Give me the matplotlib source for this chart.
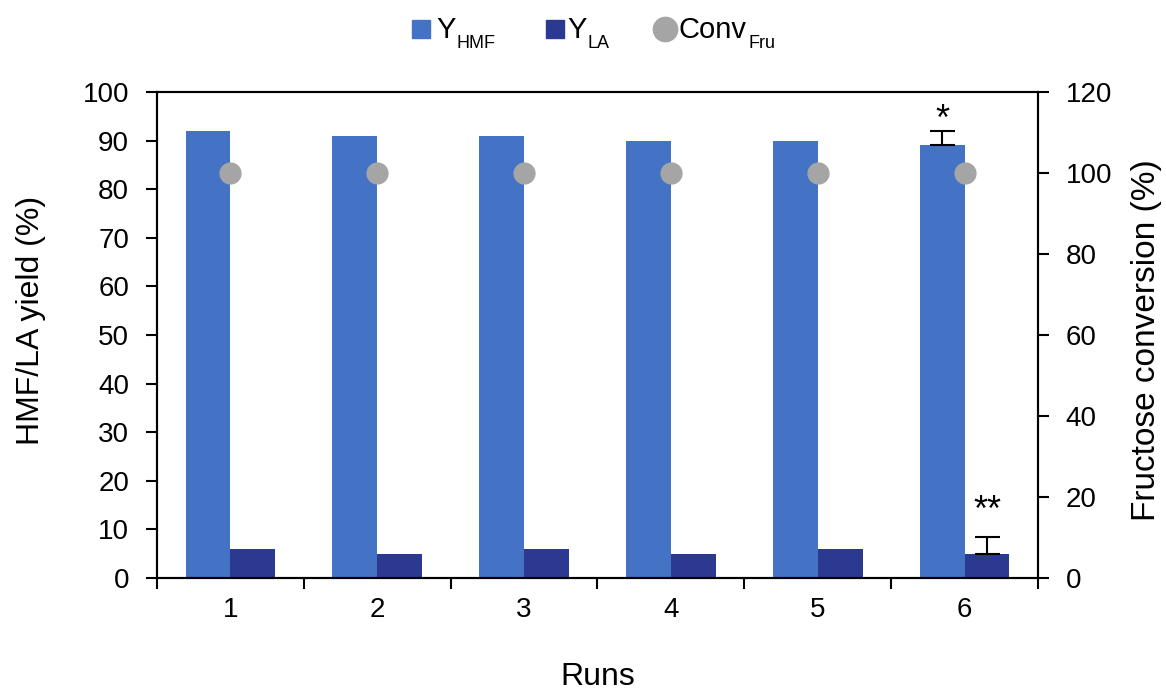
import matplotlib.pyplot as plt
import numpy as np
from matplotlib.lines import Line2D

plt.rcParams['font.family'] = ['Liberation Sans', 'DejaVu Sans']

runs = ['1', '2', '3', '4', '5', '6']
y_hmf = [92, 91, 91, 90, 90, 89]
y_la = [6, 5, 6, 5, 6, 5]
conv_fru = [100, 100, 100, 100, 100, 100]
err_hmf = [0, 0, 0, 0, 0, 3]
err_la = [0, 0, 0, 0, 0, 3.5]
marks_hmf = ['', '', '', '', '', '*']
marks_la = ['', '', '', '', '', '**']
legend_main = ['Y', 'Y', 'Conv']
legend_sub = ['HMF', 'LA', 'Fru']

c_hmf = '#4472C4'
c_la = '#2B3990'
c_conv = '#A5A5A5'

W, H = 1166, 693
fig = plt.figure(figsize=(W/100, H/100), dpi=100)
ax = fig.add_axes([157/W, 1-578/H, (1038-157)/W, (578-92)/H])
ax2 = ax.twinx()

x = np.arange(len(runs))
w = 0.305
ax.bar(x - w/2, y_hmf, w, color=c_hmf, zorder=2)
ax.bar(x + w/2, y_la, w, color=c_la, zorder=2)
for i in range(len(runs)):
    if err_hmf[i] > 0:
        ax.errorbar(x[i] - w/2, y_hmf[i], yerr=[[0], [err_hmf[i]]], fmt='none',
                    ecolor='black', elinewidth=1.5, capsize=9, capthick=1.5, zorder=3)
    if err_la[i] > 0:
        ax.errorbar(x[i] + w/2, y_la[i], yerr=[[0], [err_la[i]]], fmt='none',
                    ecolor='black', elinewidth=1.5, capsize=9, capthick=1.5, zorder=3)
    if marks_hmf[i]:
        ax.text(x[i] - w/2, y_hmf[i] + err_hmf[i] - 1.5, marks_hmf[i], ha='center',
                va='bottom', fontsize=26)
    if marks_la[i]:
        ax.text(x[i] + w/2, y_la[i] + err_la[i] + 1.5, marks_la[i], ha='center',
                va='bottom', fontsize=26)

ax2.plot(x, conv_fru, 'o', color=c_conv, markersize=15, zorder=4)

ax.set_xlim(-0.5, len(runs) - 0.5)
ax.set_ylim(0, 100)
ax.set_yticks(np.arange(0, 101, 10))
ax2.set_ylim(0, 120)
ax2.set_yticks(np.arange(0, 121, 20))

ax.set_xticks(x)
ax.set_xticklabels(runs)
ax.tick_params(axis='x', which='major', length=0, pad=14, labelsize=20)
ax.set_xticks(np.arange(-0.5, len(runs), 1), minor=True)
ax.tick_params(axis='x', which='minor', length=8, width=1.5, direction='out')
ax.tick_params(axis='y', length=8, width=1.5, direction='out', labelsize=20, pad=12)
ax2.tick_params(axis='y', length=8, width=1.5, direction='out', labelsize=20, pad=12)

for a in (ax, ax2):
    for s in a.spines.values():
        s.set_linewidth(1.5)

ax.set_xlabel('Runs', fontsize=23)
ax.xaxis.set_label_coords(0.5, -(677 - 578) / (578 - 92))
ax.xaxis.label.set_va('center')
ax.set_ylabel('HMF/LA yield (%)', fontsize=23)
ax.yaxis.set_label_coords(-(157 - 31) / (1038 - 157), (578 - 320) / (578 - 92))
ax.yaxis.label.set_va('center')
ax2.set_ylabel('Fructose conversion (%)', fontsize=24)
ax2.yaxis.set_label_coords(1 + (1147 - 1038) / (1038 - 157), (578 - 340) / (578 - 92))
ax2.yaxis.label.set_va('center')
ax2.patch.set_visible(False)

# manual legend with small subscripts
colors = [c_hmf, c_la, c_conv]
markers = ['s', 's', 'o']
msizes = [12.5, 12.5, 17.5]
marker_x = [421, 555, 665]
text_x = [436, 567, 679]
fig.canvas.draw()
renderer = fig.canvas.get_renderer()
for i in range(3):
    fig.add_artist(Line2D([marker_x[i] / W], [1 - 29 / H], transform=fig.transFigure,
                          marker=markers[i], color=colors[i], markersize=msizes[i],
                          linestyle='none'))
    t = fig.text(text_x[i] / W, 1 - 38 / H, legend_main[i], fontsize=21, va='baseline',
                 ha='left')
    bb = t.get_window_extent(renderer)
    fig.text((bb.x1 + 1) / W, 1 - 48 / H, legend_sub[i], fontsize=13, va='baseline',
             ha='left')

fig.savefig('out.png', dpi=100)
